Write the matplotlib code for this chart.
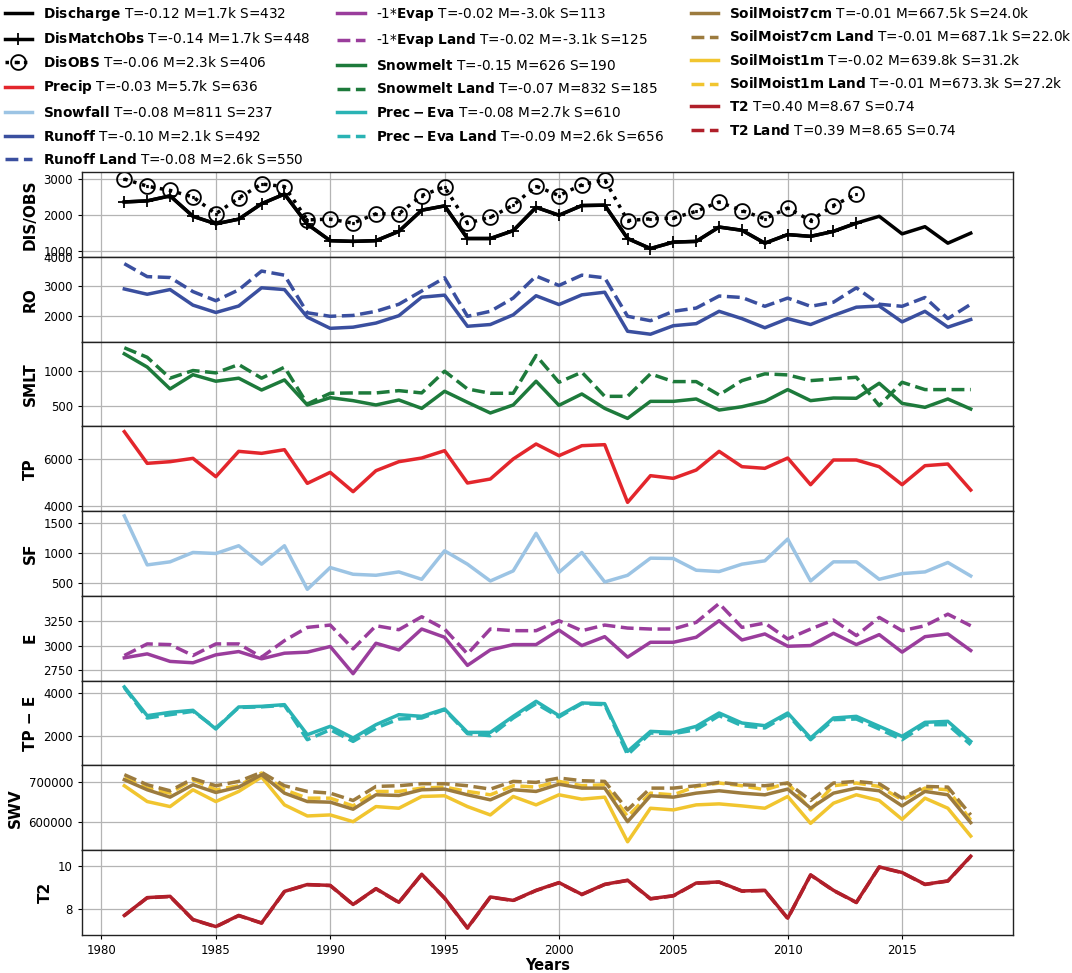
import numpy as np
import matplotlib.pyplot as plt

years = np.arange(1981, 2019)
obs_years = np.arange(1981, 2014)

discharge = [2360, 2390, 2530, 1960, 1750, 1880, 2310, 2580, 1740, 1280,
             1260, 1280, 1540, 2130, 2250, 1340, 1340, 1560, 2210, 1990,
             2260, 2270, 1340, 1060, 1240, 1260, 1660, 1570, 1210, 1450,
             1400, 1540, 1770, 1960, 1470, 1670, 1210, 1490]
dis_match_obs = discharge[:33]
dis_obs = [3000, 2800, 2680, 2500, 2030, 2470, 2860, 2790, 1860, 1880,
           1770, 2030, 2030, 2540, 2780, 1770, 1930, 2270, 2800, 2540,
           2840, 2980, 1840, 1890, 1910, 2100, 2360, 2120, 1890, 2190,
           1840, 2260, 2580]

runoff = [2910, 2730, 2890, 2360, 2110, 2330, 2950, 2890, 1950, 1570,
          1610, 1750, 2000, 2630, 2700, 1640, 1700, 2030, 2680, 2380,
          2710, 2800, 1470, 1370, 1660, 1730, 2150, 1900, 1590, 1900,
          1700, 2010, 2290, 2330, 1790, 2150, 1610, 1870]
runoff_land = [3770, 3330, 3300, 2820, 2510, 2880, 3520, 3380, 2100, 1980,
               2010, 2150, 2390, 2840, 3290, 1980, 2150, 2600, 3350, 3030,
               3380, 3290, 1980, 1830, 2150, 2260, 2670, 2620, 2320, 2600,
               2320, 2460, 2950, 2390, 2320, 2620, 1900, 2390]

snowmelt = [1250, 1060, 745, 950, 856, 900, 730, 875, 515, 620,
            577, 515, 587, 466, 712, 553, 400, 515, 856, 510,
            673, 466, 322, 567, 567, 601, 442, 490, 567, 736,
            577, 615, 611, 827, 538, 481, 601, 457]
snowmelt_land = [1337, 1200, 900, 1010, 976, 1096, 900, 1058, 529, 683,
                 688, 688, 721, 688, 1000, 745, 683, 683, 1226, 841,
                 986, 639, 639, 962, 851, 851, 659, 865, 962, 947,
                 865, 889, 913, 505, 841, 736, 736, 736]

precip = [7155, 5817, 5887, 6028, 5254, 6324, 6239, 6394, 4972, 5437,
          4620, 5507, 5887, 6042, 6352, 4986, 5155, 6000, 6634, 6141,
          6563, 6606, 4169, 5296, 5183, 5535, 6324, 5676, 5606, 6042,
          4915, 5958, 5958, 5676, 4915, 5718, 5789, 4690]

snowfall = [1620, 804, 855, 1011, 994, 1123, 816, 1123, 397, 760,
            648, 631, 687, 564, 1039, 816, 536, 704, 1330, 680,
            1011, 520, 631, 916, 911, 715, 693, 816, 872, 1235,
            536, 855, 855, 564, 659, 687, 844, 620]

evap = [2873, 2914, 2836, 2822, 2904, 2938, 2863, 2921, 2932, 2990,
        2709, 3024, 2955, 3171, 3086, 2795, 2955, 3010, 3010, 3160,
        3000, 3092, 2880, 3034, 3034, 3086, 3257, 3058, 3120, 2993,
        3000, 3127, 3010, 3113, 2932, 3092, 3120, 2949]
evap_land = [2897, 3017, 3010, 2897, 3017, 3017, 2880, 3051, 3188, 3212,
             2966, 3205, 3164, 3298, 3171, 2914, 3171, 3154, 3154, 3257,
             3154, 3212, 3181, 3171, 3171, 3240, 3435, 3188, 3233, 3068,
             3171, 3264, 3103, 3291, 3154, 3205, 3325, 3205]

prec_eva = [4281, 2938, 3094, 3188, 2313, 3344, 3375, 3453, 2047, 2438,
            1891, 2516, 2984, 2906, 3250, 2156, 2156, 2906, 3609, 2938,
            3531, 3500, 1266, 2203, 2156, 2438, 3063, 2594, 2469, 3063,
            1891, 2828, 2906, 2438, 1969, 2625, 2672, 1734]
prec_eva_land = [4250, 2828, 2984, 3140, 2360, 3320, 3350, 3420, 1813, 2281,
                 1734, 2359, 2781, 2828, 3219, 2094, 2000, 2828, 3500, 2875,
                 3500, 3453, 1109, 2125, 2094, 2281, 2938, 2469, 2359, 2984,
                 1813, 2750, 2781, 2313, 1813, 2516, 2516, 1578]

soil_7cm = [705900, 680500, 661900, 693200, 673700, 687300, 718600, 672000, 650800, 649200,
            631400, 667800, 666100, 680500, 682200, 667800, 655100, 680500, 676300, 694500,
            684700, 684700, 600000, 665300, 661900, 672000, 678000, 672000, 667800, 682200,
            633900, 672000, 684700, 678000, 639800, 676300, 667800, 597500]
soil_7cm_land = [718600, 693200, 678000, 708500, 690700, 701700, 724600, 690700, 676300, 672000,
                 653400, 689000, 690700, 695800, 695800, 690700, 682200, 701700, 699200, 710200,
                 703400, 701700, 629700, 684700, 684700, 690700, 699200, 693200, 690700, 697500,
                 653400, 697500, 701700, 695800, 659300, 689000, 687300, 617000]
soil_1m = [690700, 650800, 638100, 680500, 650800, 676300, 712700, 642400, 614400, 617000,
           600000, 638100, 633900, 663600, 665300, 638100, 617000, 663600, 642400, 667800,
           656800, 661900, 549200, 633900, 629700, 642400, 644900, 639800, 633900, 663600,
           595800, 646600, 667800, 653400, 605900, 659300, 633900, 563600]
soil_1m_land = [710000, 684700, 672000, 706000, 680500, 690700, 722900, 680500, 659300, 659300,
                639800, 676300, 676300, 684700, 687300, 676300, 667800, 690700, 687300, 701700,
                690700, 693200, 612700, 672000, 667800, 689000, 697500, 690700, 680500, 697500,
                629700, 690700, 697500, 689000, 655100, 684700, 680500, 604200]

t2 = [7.69, 8.52, 8.58, 7.50, 7.17, 7.69, 7.34, 8.81, 9.13, 9.09,
      8.20, 8.94, 8.30, 9.61, 8.50, 7.11, 8.55, 8.39, 8.86, 9.22,
      8.67, 9.14, 9.33, 8.47, 8.61, 9.20, 9.25, 8.83, 8.86, 7.56,
      9.58, 8.86, 8.30, 9.95, 9.69, 9.14, 9.30, 10.45]
t2_land = [7.68, 8.51, 8.57, 7.49, 7.16, 7.68, 7.33, 8.80, 9.12, 9.08,
           8.19, 8.93, 8.29, 9.60, 8.49, 7.10, 8.54, 8.38, 8.85, 9.21,
           8.66, 9.13, 9.32, 8.46, 8.60, 9.19, 9.24, 8.82, 8.85, 7.55,
           9.57, 8.85, 8.29, 9.94, 9.68, 9.13, 9.29, 10.44]

panel_names = ["DIS/OBS", "RO", "SMLT", "TP", "SF", "E", "TP \u2212 E", "SWV", "T2"]
panel_ylims = [(830, 3195), (1120, 4005), (208, 1426), (3800, 7380), (288, 1700),
               (2637, 3514), (610, 4576), (528000, 742000), (6.78, 10.73)]
panel_yticks = [[1000, 2000, 3000], [2000, 3000, 4000], [500, 1000], [4000, 6000],
                [500, 1000, 1500], [2750, 3000, 3250], [2000, 4000],
                [600000, 700000], [8, 10]]
xticks = [1980, 1985, 1990, 1995, 2000, 2005, 2010, 2015]

C_RED = "#e3262c"
C_SNOW = "#9cc4e4"
C_RUNOFF = "#3a4f9f"
C_EVAP = "#9a3d9c"
C_MELT = "#1d7a3b"
C_PME = "#2ab3b4"
C_SM7 = "#9c7b3e"
C_SM1 = "#f1c52f"
C_T2 = "#b01f2a"

LW = 2.5

fig = plt.figure(figsize=(10.72, 9.73), dpi=100)
axes = fig.subplots(9, 1, sharex=True)
fig.subplots_adjust(left=0.0765, right=0.945, top=0.8232, bottom=0.0391, hspace=0)

h = {}
ax = axes[0]
h["dis"], = ax.plot(years, discharge, color="black", lw=LW)
h["match"], = ax.plot(obs_years, dis_match_obs, color="black", lw=LW, marker="+",
                      markersize=9, markeredgewidth=1.3)
h["obs"], = ax.plot(obs_years, dis_obs, color="black", lw=LW, ls=":", marker=r"$\odot$",
                    markersize=12, markeredgewidth=0)

ax = axes[1]
h["ro"], = ax.plot(years, runoff, color=C_RUNOFF, lw=LW)
h["rol"], = ax.plot(years, runoff_land, color=C_RUNOFF, lw=LW, ls="--")

ax = axes[2]
h["sm"], = ax.plot(years, snowmelt, color=C_MELT, lw=LW)
h["sml"], = ax.plot(years, snowmelt_land, color=C_MELT, lw=LW, ls="--")

ax = axes[3]
h["tp"], = ax.plot(years, precip, color=C_RED, lw=LW)

ax = axes[4]
h["sf"], = ax.plot(years, snowfall, color=C_SNOW, lw=LW)

ax = axes[5]
h["ev"], = ax.plot(years, evap, color=C_EVAP, lw=LW)
h["evl"], = ax.plot(years, evap_land, color=C_EVAP, lw=LW, ls="--")

ax = axes[6]
h["pe"], = ax.plot(years, prec_eva, color=C_PME, lw=LW)
h["pel"], = ax.plot(years, prec_eva_land, color=C_PME, lw=LW, ls="--")

ax = axes[7]
h["s1"], = ax.plot(years, soil_1m, color=C_SM1, lw=LW)
h["s1l"], = ax.plot(years, soil_1m_land, color=C_SM1, lw=LW, ls="--")
h["s7"], = ax.plot(years, soil_7cm, color=C_SM7, lw=LW)
h["s7l"], = ax.plot(years, soil_7cm_land, color=C_SM7, lw=LW, ls="--")

ax = axes[8]
h["t2l"], = ax.plot(years, t2_land, color=C_T2, lw=LW, ls="--")
h["t2"], = ax.plot(years, t2, color=C_T2, lw=LW)

for ax, name, lim, ticks in zip(axes, panel_names, panel_ylims, panel_yticks):
    ax.set_ylim(*lim)
    ax.set_yticks(ticks)
    ax.set_ylabel(name, fontsize=11, fontweight="bold")
    ax.grid(True, color="#b4b4b4", lw=0.9)
    ax.set_axisbelow(True)
    ax.tick_params(labelsize=8.5, length=3)
    for sp in ax.spines.values():
        sp.set_color("#222222")
        sp.set_linewidth(1.0)

axes[-1].set_xticks(xticks)
axes[-1].set_xlim(1979.15, 2019.85)
axes[-1].set_xlabel("Years", fontsize=10.5, fontweight="bold", labelpad=1)

legend_items = [
    ("dis", r"$\bf{Discharge}$ T=-0.12 M=1.7k S=432"),
    ("match", r"$\bf{DisMatchObs}$ T=-0.14 M=1.7k S=448"),
    ("obs", r"$\bf{DisOBS}$ T=-0.06 M=2.3k S=406"),
    ("tp", r"$\bf{Precip}$ T=-0.03 M=5.7k S=636"),
    ("sf", r"$\bf{Snowfall}$ T=-0.08 M=811 S=237"),
    ("ro", r"$\bf{Runoff}$ T=-0.10 M=2.1k S=492"),
    ("rol", r"$\bf{Runoff\ Land}$ T=-0.08 M=2.6k S=550"),
    ("ev", r"-1*$\bf{Evap}$ T=-0.02 M=-3.0k S=113"),
    ("evl", r"-1*$\bf{Evap\ Land}$ T=-0.02 M=-3.1k S=125"),
    ("sm", r"$\bf{Snowmelt}$ T=-0.15 M=626 S=190"),
    ("sml", r"$\bf{Snowmelt\ Land}$ T=-0.07 M=832 S=185"),
    ("pe", r"$\bf{Prec-Eva}$ T=-0.08 M=2.7k S=610"),
    ("pel", r"$\bf{Prec-Eva\ Land}$ T=-0.09 M=2.6k S=656"),
    ("s7", r"$\bf{SoilMoist7cm}$ T=-0.01 M=667.5k S=24.0k"),
    ("s7l", r"$\bf{SoilMoist7cm\ Land}$ T=-0.01 M=687.1k S=22.0k"),
    ("s1", r"$\bf{SoilMoist1m}$ T=-0.02 M=639.8k S=31.2k"),
    ("s1l", r"$\bf{SoilMoist1m\ Land}$ T=-0.01 M=673.3k S=27.2k"),
    ("t2", r"$\bf{T2}$ T=0.40 M=8.67 S=0.74"),
    ("t2l", r"$\bf{T2\ Land}$ T=0.39 M=8.65 S=0.74"),
]
fig.legend([h[k] for k, _ in legend_items], [lab for _, lab in legend_items],
           loc="upper left", bbox_to_anchor=(0.0, 1.0), ncol=3, frameon=False,
           fontsize=9.8, handlelength=2.0, columnspacing=2.0, labelspacing=0.63,
           borderaxespad=0.0, borderpad=0.35, numpoints=1)

fig.savefig("out.png", dpi=100)
